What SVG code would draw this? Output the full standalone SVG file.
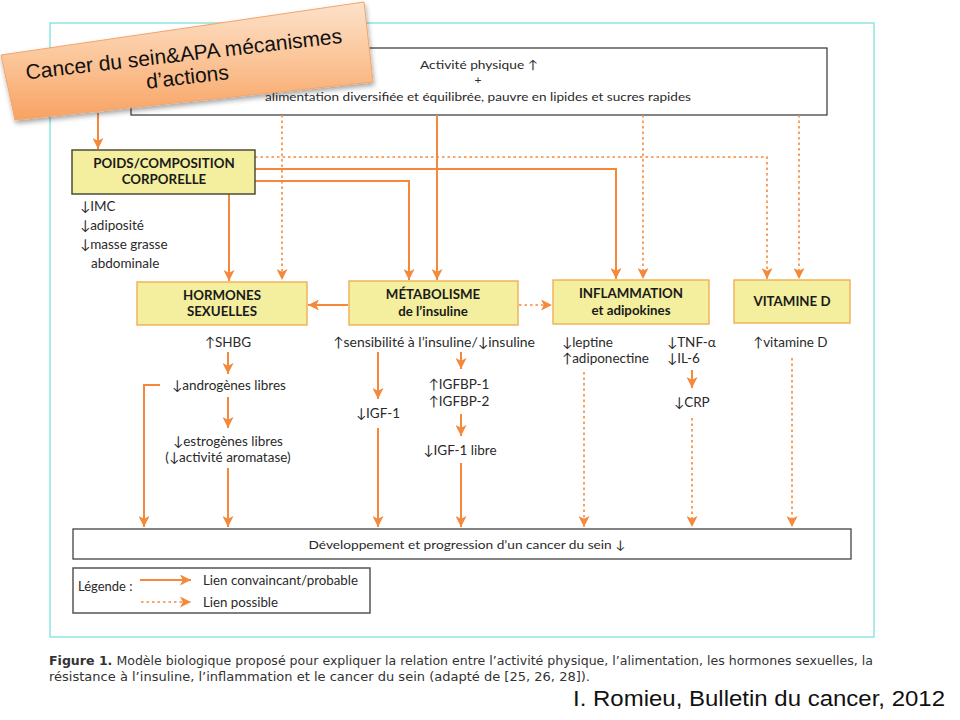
<svg xmlns="http://www.w3.org/2000/svg" width="960" height="720" viewBox="0 0 960 720">
<defs>
<linearGradient id="tg" x1="0" y1="0" x2="0" y2="1">
<stop offset="0" stop-color="#fde2cb"/>
<stop offset="0.5" stop-color="#fbc497"/>
<stop offset="1" stop-color="#f8a262"/>
</linearGradient>
<filter id="sh" x="-10%" y="-20%" width="130%" height="150%">
<feDropShadow dx="1" dy="3" stdDeviation="2.5" flood-color="#000" flood-opacity="0.35"/>
</filter>
<marker id="ah" markerUnits="userSpaceOnUse" markerWidth="11" markerHeight="11" refX="10" refY="5" orient="auto" viewBox="0 0 10 10">
<path d="M0,0 L10,5 L0,10 L2.5,5 z" fill="#f5893b"/>
</marker>
</defs>
<style>
.t{font-family:Lato,"DejaVu Sans",sans-serif;fill:#2a2a2a;font-size:13.5px}
.s{font-family:Lato,"DejaVu Sans",sans-serif;fill:#2a2a2a;font-size:12px}
.l{font-family:Lato,"DejaVu Sans",sans-serif;fill:#2a2a2a;font-size:13px}
.b{font-family:Lato,"DejaVu Sans",sans-serif;fill:#1a1a1a;font-size:13.3px;font-weight:bold}
.box{fill:#f3ef9e;stroke:#f2b25c;stroke-width:1.5}
.wbox{fill:#fff;stroke:#333;stroke-width:1.2}
.sol{fill:none;stroke:#f5893b;stroke-width:2;marker-end:url(#ah)}
.dash{fill:none;stroke:#f5893b;stroke-width:1.6;stroke-dasharray:2.5,3;marker-end:url(#ah)}
.m{text-anchor:middle}
</style>
<rect width="960" height="720" fill="#fff"/>
<rect id="frame" x="50" y="23" width="824" height="614" fill="none" stroke="#8fe6e2" stroke-width="1.5"/>

<g id="top">
<rect class="wbox" x="131" y="48" width="696" height="67"/>
<text class="s m" x="479" y="69" textLength="118" lengthAdjust="spacingAndGlyphs">Activité physique ↑</text>
<text class="s m" x="478" y="84">+</text>
<text class="s m" x="478" y="101" textLength="426" lengthAdjust="spacingAndGlyphs">alimentation diversifiée et équilibrée, pauvre en lipides et sucres rapides</text>
</g>

<g id="connectors">
<path class="sol" d="M98,113 V149"/>
<path class="dash" d="M282,115 V280"/>
<path class="sol" d="M437,115 V280"/>
<path class="dash" d="M643,115 V279"/>
<path class="dash" d="M799,115 V279"/>
<path class="sol" d="M229,194 V281"/>
<path class="dash" d="M255,157 H767 V279"/>
<path class="sol" d="M255,169 H616 V279"/>
<path class="sol" d="M255,181 H409 V280"/>
<path class="sol" d="M348,305 H308"/>
<path class="dash" d="M519,305 H552"/>
<path class="sol" d="M228,352 V374"/>
<path class="sol" d="M228,397 V428"/>
<path class="sol" d="M228,468 V527"/>
<path class="sol" d="M160,385 H144 V527"/>
<path class="sol" d="M378,352 V399"/>
<path class="sol" d="M378,428 V527"/>
<path class="sol" d="M461,352 V369"/>
<path class="sol" d="M461,414 V436"/>
<path class="sol" d="M461,463 V527"/>
<path class="dash" d="M584,372 V527"/>
<path class="sol" d="M692,370 V388"/>
<path class="dash" d="M692,418 V527"/>
<path class="dash" d="M792,358 V527"/>
</g>

<g id="poids">
<rect x="72" y="150" width="183" height="44" fill="#f3ef9e" stroke="#4d4d38" stroke-width="1.5"/>
<text class="b m" x="164" y="168">POIDS/COMPOSITION</text>
<text class="b m" x="164" y="184">CORPORELLE</text>
<text class="t" x="80" y="211">↓IMC</text>
<text class="t" x="80" y="230">↓adiposité</text>
<text class="t" x="80" y="249">↓masse grasse</text>
<text class="t" x="91" y="268">abdominale</text>
</g>

<g id="hormones">
<rect class="box" x="137" y="282" width="170" height="43"/>
<text class="b m" x="222" y="300">HORMONES</text>
<text class="b m" x="222" y="316">SEXUELLES</text>
<text class="t m" x="228" y="347">↑SHBG</text>
<text class="t m" x="229" y="390">↓androgènes libres</text>
<text class="t m" x="228" y="446">↓estrogènes libres</text>
<text class="t m" x="228" y="462">(↓activité aromatase)</text>
</g>

<g id="metabolisme">
<rect class="box" x="349" y="281" width="169" height="44"/>
<text class="b m" x="433" y="299">MÉTABOLISME</text>
<text class="b m" x="433" y="316">de l’insuline</text>
<text class="t m" x="434" y="347" textLength="202" lengthAdjust="spacingAndGlyphs">↑sensibilité à l’insuline/↓insuline</text>
<text class="t m" x="378" y="418">↓IGF-1</text>
<text class="t m" x="459" y="389">↑IGFBP-1</text>
<text class="t m" x="459" y="406">↑IGFBP-2</text>
<text class="t m" x="460" y="455">↓IGF-1 libre</text>
</g>

<g id="inflammation">
<rect class="box" x="553" y="280" width="156" height="44"/>
<text class="b m" x="631" y="298">INFLAMMATION</text>
<text class="b m" x="631" y="315">et adipokines</text>
<text class="t" x="562" y="347">↓leptine</text>
<text class="t" x="562" y="363">↑adiponectine</text>
<text class="t" x="667" y="347">↓TNF-α</text>
<text class="t" x="667" y="363">↓IL-6</text>
<text class="t" x="674" y="407">↓CRP</text>
</g>

<g id="vitamine">
<rect class="box" x="734" y="280" width="116" height="43"/>
<text class="b m" x="792" y="306">VITAMINE D</text>
<text class="t" x="753" y="347">↑vitamine D</text>
</g>

<g id="cancer">
<rect class="wbox" x="73" y="529" width="778" height="30"/>
<text class="s m" x="467" y="549" textLength="317" lengthAdjust="spacingAndGlyphs">Développement et progression d’un cancer du sein ↓</text>
</g>

<g id="legende">
<rect x="73" y="568" width="297" height="45" fill="#fff" stroke="#555" stroke-width="1.5"/>
<text class="l" x="78" y="591">Légende :</text>
<path class="sol" d="M140,580 H191"/>
<path class="dash" d="M141,602 H191"/>
<text class="l" x="203" y="585" textLength="155" lengthAdjust="spacingAndGlyphs">Lien convaincant/probable</text>
<text class="l" x="203" y="607" textLength="75" lengthAdjust="spacingAndGlyphs">Lien possible</text>
</g>

<g id="caption">
<text x="49" y="665" font-family="'DejaVu Sans',sans-serif" font-size="12.5" fill="#333" textLength="824" lengthAdjust="spacingAndGlyphs"><tspan font-weight="bold">Figure 1.</tspan> Modèle biologique proposé pour expliquer la relation entre l’activité physique, l’alimentation, les hormones sexuelles, la</text>
<text x="49" y="681" font-family="'DejaVu Sans',sans-serif" font-size="12.5" fill="#333" textLength="541" lengthAdjust="spacingAndGlyphs">résistance à l’insuline, l’inflammation et le cancer du sein (adapté de [25, 26, 28]).</text>
<text x="573" y="706" font-family="'Liberation Sans',Arial,sans-serif" font-size="22" fill="#111" textLength="372" lengthAdjust="spacingAndGlyphs">I. Romieu, Bulletin du cancer, 2012</text>
</g>

<g id="title">
<polygon points="1,55 364,2 373,82 15,120" fill="url(#tg)" stroke="#f4a569" stroke-width="1" filter="url(#sh)"/>
<g transform="rotate(-6.6 186 65)">
<text x="185" y="61" text-anchor="middle" font-family="'Liberation Sans',Arial,sans-serif" font-size="21" fill="#111">Cancer du sein&amp;APA mécanismes</text>
<text x="186" y="84" text-anchor="middle" font-family="'Liberation Sans',Arial,sans-serif" font-size="21" fill="#111">d’actions</text>
</g>
</g>
</svg>
